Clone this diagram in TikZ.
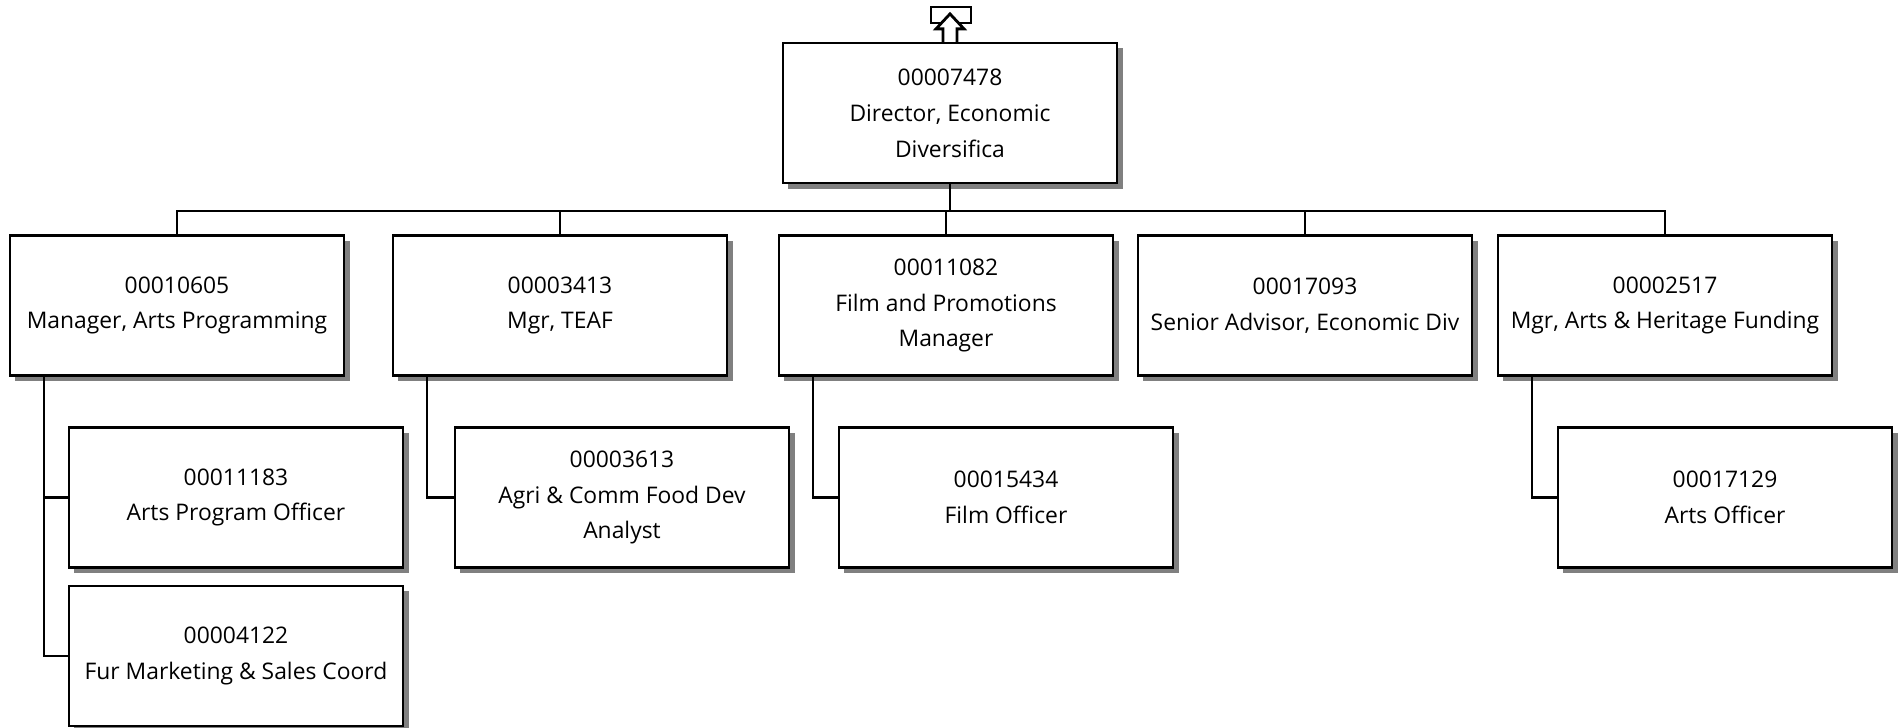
\documentclass[tikz,border=0pt]{standalone}
\usepackage{fontspec}
\setmainfont{Open Sans}
\usepackage{tikz}
\usetikzlibrary{shadows}

\begin{document}
\begin{tikzpicture}[
  x=0.01cm, y=-0.01cm,
  line width=0.6pt,
  post/.style={draw, fill=white, minimum width=3.34cm, minimum height=1.40cm,
    align=center, inner sep=1pt,
    drop shadow={shadow xshift=0.055cm, shadow yshift=-0.055cm, fill=black!50, opacity=1}},
  every node/.style={font=\fontsize{6.5}{10.2}\selectfont}
]
\useasboundingbox (0,0) rectangle (1902,728);

% top position
\node[post] (dir) at (950,113) {00007478\\Director, Economic\\Diversifica};
\draw[fill=white, line width=0.8pt] (931,7) rectangle (971,23);
\draw[fill=white, line width=0.8pt] (dir.north) ++(-7,0) -- ++(0,-13) -- ++(-7,0) -- ++(14,-15)
  -- ++(14,15) -- ++(-7,0) -- ++(0,13);

% managers
\node[post] (m1) at (177,305.5) {00010605\\Manager, Arts Programming};
\node[post] (m2) at (560,305.5) {00003413\\Mgr, TEAF};
\node[post] (m3) at (946,305.5) {00011082\\Film and Promotions\\Manager};
\node[post] (m4) at (1305,305.5) {00017093\\Senior Advisor, Economic Div};
\node[post] (m5) at (1665,305.5) {00002517\\Mgr, Arts \& Heritage Funding};

% staff
\node[post] (s11) at (236,497.5) {00011183\\Arts Program Officer};
\node[post] (s12) at (236,656) {00004122\\Fur Marketing \& Sales Coord};
\node[post] (s21) at (622,497.5) {00003613\\Agri \& Comm Food Dev\\Analyst};
\node[post] (s31) at (1006,497.5) {00015434\\Film Officer};
\node[post] (s51) at (1725,497.5) {00017129\\Arts Officer};

\foreach \m in {m1,m2,m3,m4,m5}
  \draw (dir.south) -- ++(0,27) -| (\m.north);

\draw (m1.south west) ++(35,0) |- (s11.west);
\draw (m1.south west) ++(35,0) |- (s12.west);
\draw (m2.south west) ++(35,0) |- (s21.west);
\draw (m3.south west) ++(35,0) |- (s31.west);
\draw (m5.south west) ++(35,0) |- (s51.west);
\end{tikzpicture}
\end{document}
